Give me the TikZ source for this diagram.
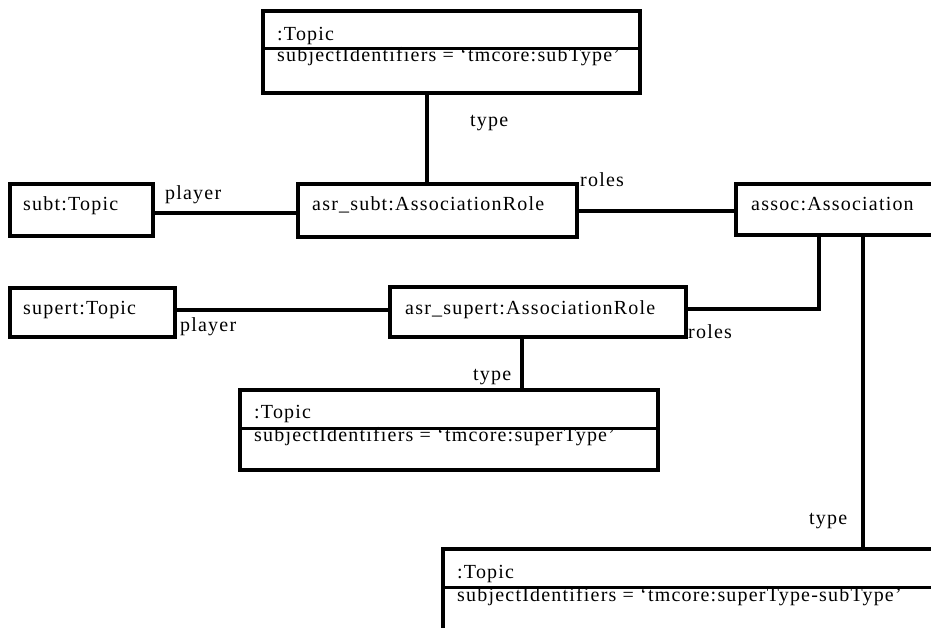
\documentclass[tikz,border=0pt]{standalone}
\usepackage{fontspec}
\setmainfont{Liberation Serif}[LetterSpace=6]
\usetikzlibrary{calc}
\tikzset{
  box/.style={draw, line width=3.5pt, rectangle, anchor=north west, inner sep=0pt, outer sep=0pt},
  divline/.style={line width=3pt},
  conn/.style={line width=4pt},
  txt/.style={anchor=base west, inner sep=0pt, font=\fontsize{20}{24}\selectfont},
}
\begin{document}
\begin{tikzpicture}[x=1pt,y=-1pt]
\fill[white] (0,0) rectangle (931,627);
\useasboundingbox (0,0) rectangle (931,627);
\clip (0,0) rectangle (931,627);
% boxes
\node[box, minimum width=377pt, minimum height=82pt] (ttop) at (263,11) {};
\node[box, minimum width=279pt, minimum height=53pt] (asrsubt) at (298,184) {};
\node[box, minimum width=143pt, minimum height=52pt] (subt) at (10,184) {};
\node[box, minimum width=224pt, minimum height=51pt] (assoc) at (736,184) {};
\node[box, minimum width=165pt, minimum height=49pt] (supert) at (10,288) {};
\node[box, minimum width=296pt, minimum height=50pt] (asrsupert) at (390,287) {};
\node[box, minimum width=418pt, minimum height=80pt] (tsuper) at (240,390) {};
\node[box, minimum width=537pt, minimum height=111pt] (tbot) at (443,549) {};
% dividers
\draw[divline] ($(ttop.north west)+(0,37)$) -- ($(ttop.north east)+(0,37)$);
\draw[divline] ($(tsuper.north west)+(0,38)$) -- ($(tsuper.north east)+(0,38)$);
\draw[divline] ($(tbot.north west)+(0,38)$) -- ($(tbot.north east)+(0,38)$);
% texts
\node[txt] (ttopa) at ($(ttop.north west)+(14,29)$) {:Topic};
\node[txt] (ttopb) at ($(ttop.north west)+(14,50)$) {subjectIdentifiers = ‘tmcore:subType’};
\node[txt] (asrsubtt) at ($(asrsubt.north west)+(14,26)$) {asr\_subt:AssociationRole};
\node[txt] (subtt) at ($(subt.north west)+(13,26)$) {subt:Topic};
\node[txt] (assoct) at ($(assoc.north west)+(15,26)$) {assoc:Association};
\node[txt] (supertt) at ($(supert.north west)+(13,26)$) {supert:Topic};
\node[txt] (asrsupertt) at ($(asrsupert.north west)+(15,27)$) {asr\_supert:AssociationRole};
\node[txt] (tsupera) at ($(tsuper.north west)+(14,28)$) {:Topic};
\node[txt] (tsuperb) at ($(tsuper.north west)+(14,51)$) {subjectIdentifiers = ‘tmcore:superType’};
\node[txt] (tbota) at ($(tbot.north west)+(14,29)$) {:Topic};
\node[txt] (tbotb) at ($(tbot.north west)+(14,52)$) {subjectIdentifiers = ‘tmcore:superType-subType’};
% connectors
\draw[conn] ($(ttop.south west)+(164,0)$) -- ($(asrsubt.north west)+(129,0)$);
\draw[conn] ($(subt.north east)+(0,29)$) -- ($(asrsubt.north west)+(0,29)$);
\draw[conn] ($(asrsubt.north east)+(0,27)$) -- ($(assoc.north west)+(0,27)$);
\draw[conn] ($(assoc.south west)+(83,0)$) |- ($(asrsupert.north east)+(0,22)$);
\draw[conn] ($(supert.north east)+(0,22)$) -- ($(asrsupert.north west)+(0,23)$);
\draw[conn] ($(asrsupert.south west)+(132,0)$) -- ($(tsuper.north west)+(282,0)$);
\draw[conn] ($(assoc.south west)+(127,0)$) -- ($(tbot.north west)+(420,0)$);
% labels
\node[txt] (lt1) at (470,126) {type};
\node[txt] (lp1) at (165,199) {player};
\node[txt] (lr1) at (580,186) {roles};
\node[txt] (lp2) at (180,331) {player};
\node[txt] (lr2) at (688,338) {roles};
\node[txt] (lt2) at (473,380) {type};
\node[txt] (lt3) at (809,524) {type};
\end{tikzpicture}
\end{document}
